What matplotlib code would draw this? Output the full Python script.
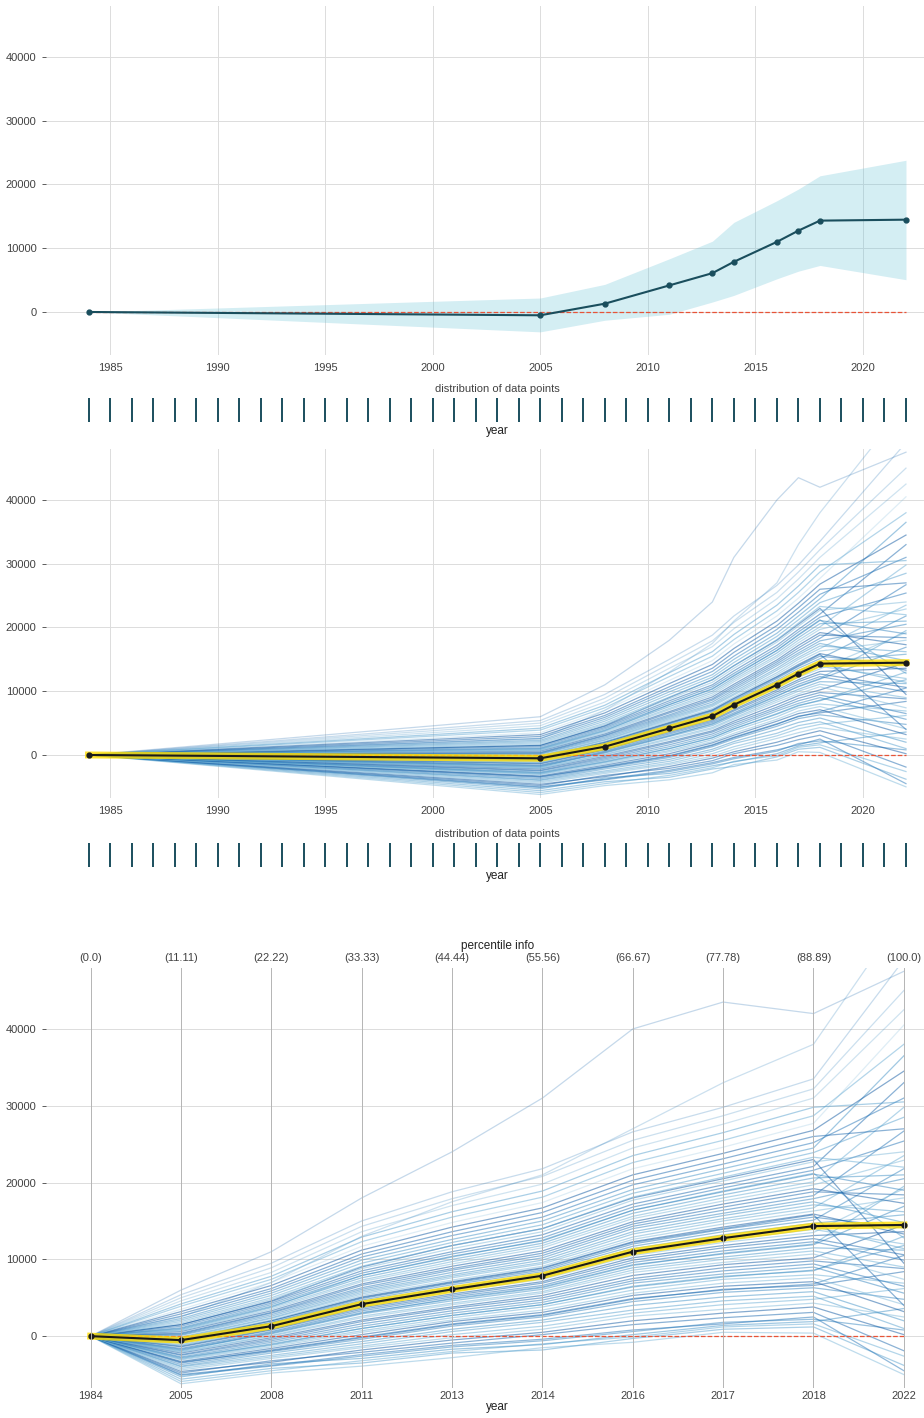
import numpy as np
import matplotlib.pyplot as plt

plt.rcParams['font.family'] = ['Liberation Sans', 'DejaVu Sans']

# grid points of the feature and their percentiles
grid_years = [1984, 2005, 2008, 2011, 2013, 2014, 2016, 2017, 2018, 2022]
percentiles = ['(0.0)', '(11.11)', '(22.22)', '(33.33)', '(44.44)',
               '(55.56)', '(66.67)', '(77.78)', '(88.89)', '(100.0)']
data_years = list(range(1984, 2023))

# partial dependence (mean of the ICE lines) and +/- one std band
pdp_mean = [0, -520, 1300, 4170, 6090, 7870, 11000, 12760, 14330, 14480]
pdp_upper = [0, 2190, 4330, 8340, 11100, 14060, 17450, 19280, 21360, 23800]
pdp_lower = [0, -3120, -1300, -360, 1560, 2600, 5200, 6400, 7300, 5060]

# individual conditional expectation lines, in thousands (1984 is always 0)
ice_k = [
    [-6.2, -4.8, -3.9, -2.8, -1.5, -0.8, 0.5, 0.4, -5.0],
    [-5.9, -4.5, -3.2, -2.0, -1.0, -0.1, 1.2, 1.6, -2.6],
    [-5.6, -4.2, -3.5, -2.2, -1.8, -0.3, 0.9, 1.2, -3.8],
    [-5.3, -3.6, -2.9, -1.7, -1.1, 0.2, 1.4, 1.9, 3.6],
    [-5.1, -3.9, -2.6, -1.4, -0.6, 0.6, 1.8, 2.2, 0.8],
    [-5.0, -3.8, -2.4, -1.2, -0.4, 0.8, 1.6, 2.5, -4.5],
    [-4.8, -3.2, -2.1, -0.9, 0.2, 1.5, 2.4, 3.1, -1.9],
    [-4.6, -3.4, -1.8, -0.5, 0.5, 2.0, 3.0, 3.8, 0.2],
    [-4.4, -2.9, -1.5, -0.2, 0.9, 2.6, 3.5, 4.3, 2.5],
    [-4.2, -2.7, -1.3, 0.2, 1.3, 3.0, 4.1, 4.8, 6.2],
    [-4.0, -2.5, -1.0, 0.6, 1.8, 3.4, 4.6, 5.2, 1.0],
    [-3.9, -2.2, -0.7, 0.9, 2.1, 4.0, 5.1, 5.8, 2.0],
    [-3.7, -2.0, -0.4, 1.3, 2.5, 4.5, 5.7, 6.3, 4.8],
    [-3.5, -1.8, -0.1, 1.6, 2.8, 4.9, 6.0, 6.8, 10.5],
    [-3.4, -1.9, -0.2, 1.5, 2.7, 4.8, 6.1, 6.6, 8.4],
    [-3.3, -1.6, 0.2, 1.9, 3.1, 5.3, 6.5, 7.1, 3.2],
    [-3.1, -1.4, 0.5, 2.1, 3.4, 5.6, 6.9, 7.6, 4.1],
    [-3.0, -1.2, 0.7, 2.4, 3.8, 6.0, 7.4, 8.0, 6.9],
    [-2.9, -1.0, 1.0, 2.7, 4.1, 6.5, 7.8, 8.5, 13.0],
    [-2.8, -1.1, 1.0, 2.7, 4.1, 6.4, 7.7, 8.6, 11.8],
    [-2.7, -0.8, 1.3, 3.0, 4.4, 6.9, 8.1, 9.0, 5.6],
    [-2.5, -0.6, 1.6, 3.3, 4.7, 7.2, 8.5, 9.4, 6.5],
    [-2.4, -0.4, 1.9, 3.6, 5.0, 7.5, 8.9, 9.8, 8.8],
    [-2.2, -0.2, 2.1, 3.8, 5.3, 7.9, 9.3, 10.2, 14.5],
    [-2.1, 0.0, 2.4, 4.1, 5.6, 8.3, 9.6, 10.7, 7.4],
    [-2.0, 0.1, 2.6, 4.3, 5.8, 8.6, 10.0, 11.1, 9.0],
    [-1.9, 0.5, 3.1, 4.8, 6.3, 9.2, 10.8, 12.0, 19.5],
    [-1.8, 0.3, 2.9, 4.6, 6.1, 8.9, 10.3, 11.5, 11.2],
    [-1.7, 0.4, 3.0, 4.9, 6.4, 9.3, 10.7, 11.9, 16.9],
    [-1.6, 0.6, 3.3, 5.1, 6.6, 9.6, 11.1, 12.3, 9.9],
    [-1.4, 0.8, 3.5, 5.3, 6.9, 9.9, 11.5, 12.7, 10.6],
    [-1.3, 0.9, 3.7, 5.5, 7.1, 10.2, 11.8, 13.1, 13.6],
    [-1.2, 1.0, 3.9, 5.8, 7.4, 10.5, 12.2, 13.5, 19.2],
    [-1.1, 1.2, 4.1, 6.0, 7.6, 10.8, 12.5, 13.9, 12.0],
    [-0.9, 1.4, 4.3, 6.2, 7.9, 11.1, 12.9, 14.3, 11.4],
    [-0.8, 1.5, 4.5, 6.4, 8.1, 11.4, 13.2, 14.7, 15.8],
    [-0.7, 1.7, 4.7, 6.7, 8.4, 11.7, 13.6, 15.1, 21.8],
    [-0.6, 1.8, 4.9, 6.9, 8.6, 12.0, 13.9, 15.5, 14.1],
    [-0.5, 2.0, 5.0, 7.0, 8.8, 12.2, 14.0, 15.8, 4.0],
    [-0.4, 2.0, 5.1, 7.1, 8.9, 12.3, 14.2, 15.9, 13.3],
    [-0.3, 2.1, 5.3, 7.3, 9.1, 12.6, 14.6, 16.3, 18.0],
    [-0.2, 2.3, 5.5, 7.6, 9.4, 12.9, 15.0, 16.7, 23.5],
    [-0.1, 2.4, 5.7, 7.8, 9.6, 13.3, 15.3, 17.1, 16.2],
    [0.1, 2.6, 5.9, 8.0, 9.9, 13.6, 15.7, 17.5, 14.8],
    [0.2, 2.8, 6.1, 8.3, 10.2, 14.0, 16.0, 17.9, 20.5],
    [0.3, 3.0, 6.3, 8.6, 10.5, 14.3, 16.4, 18.3, 26.7],
    [0.4, 3.1, 6.6, 8.8, 10.8, 14.6, 16.8, 18.8, 18.4],
    [0.6, 3.3, 6.8, 9.1, 11.1, 14.9, 17.2, 19.2, 17.3],
    [0.7, 3.5, 7.1, 9.4, 11.5, 15.3, 17.6, 19.7, 22.9],
    [0.8, 3.7, 7.3, 9.7, 11.8, 15.6, 18.0, 20.1, 29.8],
    [0.9, 3.8, 7.9, 10.3, 12.5, 16.4, 18.9, 21.2, 12.8],
    [1.0, 3.9, 7.6, 10.0, 12.1, 16.0, 18.4, 20.6, 21.0],
    [1.1, 4.1, 7.9, 10.4, 12.4, 16.4, 18.8, 21.1, 19.0],
    [1.3, 4.3, 8.2, 10.7, 12.8, 16.8, 19.3, 21.6, 25.4],
    [1.5, 4.5, 8.5, 11.0, 13.2, 17.2, 19.7, 22.1, 33.0],
    [1.5, 4.6, 9.0, 11.8, 14.0, 18.0, 20.5, 23.0, 9.5],
    [1.7, 4.8, 8.8, 11.4, 13.6, 17.7, 20.2, 22.7, 24.0],
    [1.9, 5.0, 9.1, 11.8, 14.0, 18.1, 20.7, 23.3, 22.0],
    [2.1, 5.3, 9.5, 12.2, 14.5, 18.6, 21.2, 23.9, 28.5],
    [2.3, 5.6, 9.9, 12.6, 15.0, 19.1, 21.8, 24.5, 36.5],
    [2.5, 7.0, 13.0, 17.5, 21.0, 27.0, 33.0, 38.0, 55.0],
    [2.6, 5.9, 10.3, 13.1, 15.5, 19.7, 22.4, 25.2, 31.0],
    [2.9, 6.2, 10.7, 13.6, 16.1, 20.3, 23.1, 26.0, 27.0],
    [3.2, 6.6, 11.2, 14.2, 16.7, 21.0, 23.8, 26.8, 34.5],
    [3.5, 7.0, 11.7, 14.8, 17.4, 21.8, 24.6, 27.7, 40.5],
    [3.9, 7.4, 12.3, 15.5, 18.1, 22.6, 25.5, 28.7, 38.0],
    [4.2, 7.8, 12.9, 16.2, 18.9, 23.5, 26.5, 29.8, 30.5],
    [4.6, 8.3, 13.6, 17.0, 19.8, 24.5, 27.6, 31.0, 42.5],
    [5.0, 8.9, 14.3, 17.9, 20.8, 25.5, 28.7, 32.2, 45.0],
    [5.4, 9.5, 15.0, 18.8, 21.8, 26.6, 29.8, 33.5, 49.0],
    [6.0, 11.0, 18.0, 24.0, 31.0, 40.0, 43.5, 42.0, 47.5],
]

W, H = 924, 1418
fig = plt.figure(figsize=(W / 100, H / 100), dpi=100)

LINE_CD = '#1A4E5D'
ZERO_CD = '#E75438'
TXT_CD = '#424242'
YLIM = (-6750, 48000)


def box(top, bottom, left=45.5, right=949):
    return [left / W, 1 - bottom / H, (right - left) / W, (bottom - top) / H]


def style_axes(ax):
    for s in ax.spines.values():
        s.set_visible(False)
    ax.tick_params(labelsize=8, colors=TXT_CD, length=3, width=0.6)
    ax.tick_params(axis='x', length=0, pad=6)
    ax.grid(True, color='#dcdcdc', lw=0.7)
    ax.set_axisbelow(True)
    ax.set_ylim(*YLIM)
    ax.set_yticks([0, 10000, 20000, 30000, 40000])


def draw_ice(ax, xs):
    colors = plt.get_cmap('Blues')(np.linspace(0.45, 0.85, 8))
    for i, row in enumerate(ice_k):
        ys = [0] + [v * 1000 for v in row]
        # the far-off lines are drawn fainter
        a = 0.25 if max(row) > 40 else 0.5
        ax.plot(xs, ys, color=colors[i % 8], lw=0.9, alpha=a, zorder=2)


def draw_pdp(ax, xs, highlight):
    if highlight:
        ax.plot(xs, pdp_mean, color='#FEDC00', lw=5, alpha=0.8, zorder=4)
    ax.plot(xs, pdp_mean, color=LINE_CD if not highlight else '#1a1a1a',
            lw=1.5, marker='o', markersize=3.5, zorder=5)
    ax.plot(xs, [0] * len(xs), ls='--', lw=0.9, color=ZERO_CD, zorder=3)


def draw_rug(top, bottom):
    rug = fig.add_axes(box(top, bottom))
    rug.plot(data_years, [0.5] * len(data_years), '|', color=LINE_CD,
             markersize=17, markeredgewidth=1.4)
    rug.set_xlim(1982, 2024)
    rug.set_ylim(0, 1)
    rug.set_xticks([])
    rug.set_yticks([])
    for s in rug.spines.values():
        s.set_visible(False)
    rug.set_facecolor('none')
    rug.set_title('distribution of data points', fontsize=8, color=TXT_CD, pad=3)
    rug.set_xlabel('year', fontsize=8.5, color='#222222', labelpad=1)


# panel 1: partial dependence with std band
ax1 = fig.add_axes(box(6, 355))
style_axes(ax1)
ax1.fill_between(grid_years, pdp_upper, pdp_lower, color='#66C2D7', alpha=0.28,
                 lw=0, zorder=2)
draw_pdp(ax1, grid_years, highlight=False)
ax1.set_xlim(1982, 2024)
ax1.set_xticks([1985, 1990, 1995, 2000, 2005, 2010, 2015, 2020])
draw_rug(396, 424)

# panel 2: ICE lines on the real year axis
ax2 = fig.add_axes(box(449, 798))
style_axes(ax2)
draw_ice(ax2, grid_years)
draw_pdp(ax2, grid_years, highlight=True)
ax2.set_xlim(1982, 2024)
ax2.set_xticks([1985, 1990, 1995, 2000, 2005, 2010, 2015, 2020])
draw_rug(841, 869)

# panel 3: ICE lines on the grid points, with percentile info on top
ax3 = fig.add_axes(box(967.5, 1388))
style_axes(ax3)
ax3.grid(False, axis='x')
pos = list(range(len(grid_years)))
for p in pos:
    ax3.axvline(p, color='#b4b4b4', lw=0.7, zorder=6)
draw_ice(ax3, pos)
draw_pdp(ax3, pos, highlight=True)
ax3.set_xlim(-0.5, 9.5)
ax3.set_xticks(pos)
ax3.set_xticklabels([str(y) for y in grid_years])
ax3.tick_params(axis='x', pad=2)
ax3.set_xlabel('year', fontsize=8.5, color='#222222', labelpad=0)

top = ax3.twiny()
top.set_xlim(ax3.get_xlim())
top.set_xticks(pos)
top.set_xticklabels(percentiles)
top.tick_params(axis='x', labelsize=8, colors=TXT_CD, length=0, pad=3)
for s in top.spines.values():
    s.set_visible(False)
top.set_xlabel('percentile info', fontsize=8.5, color='#222222', labelpad=3)

fig.savefig('out.png', dpi=100, facecolor='white')
